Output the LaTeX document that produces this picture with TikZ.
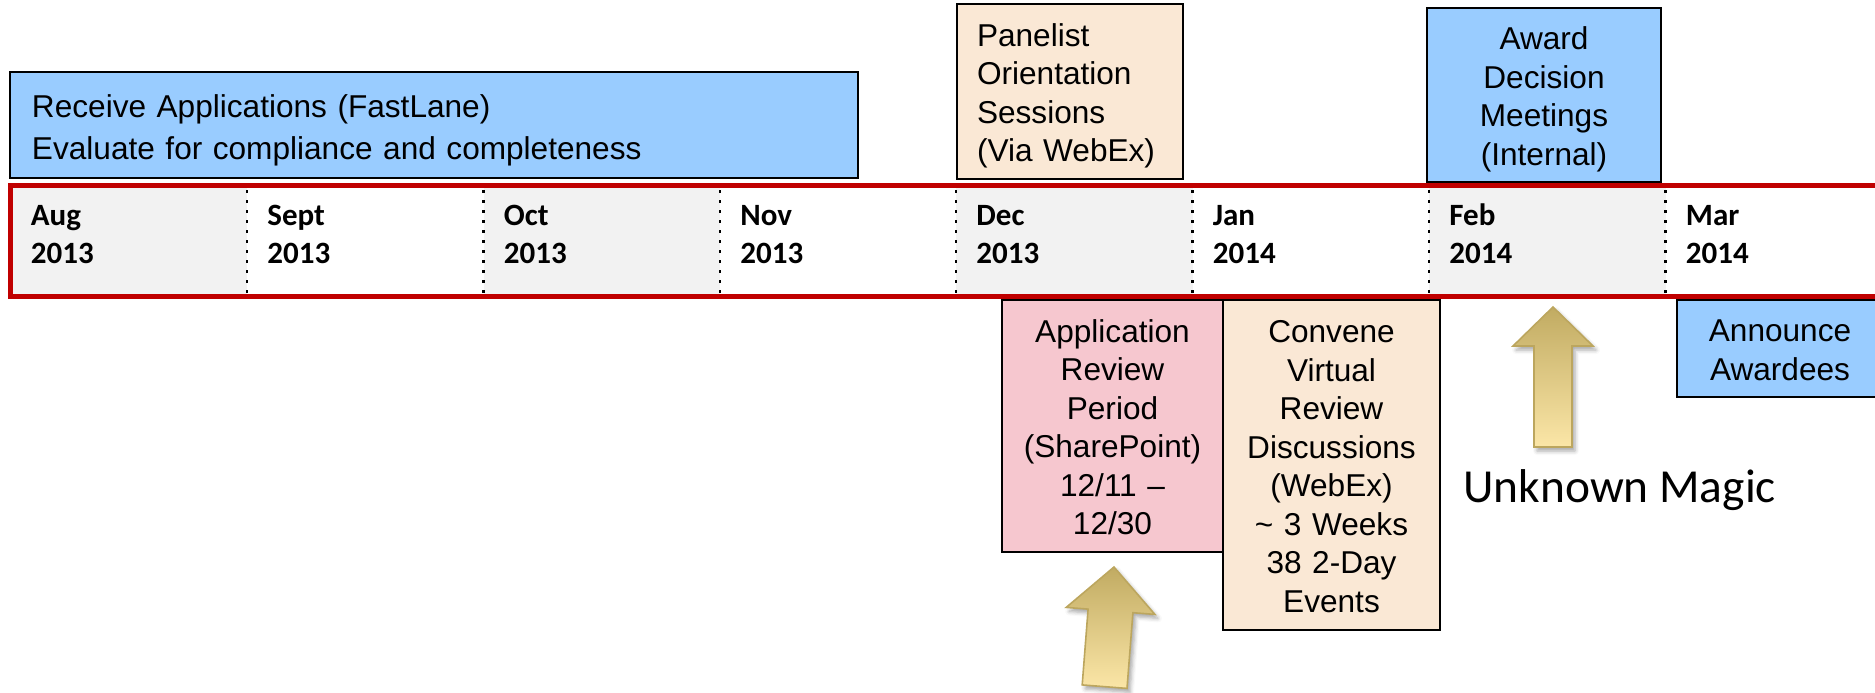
\documentclass[tikz,border=0pt]{standalone}
\usepackage{fontspec}
\setmainfont{Liberation Sans}
\newfontfamily\calibrifont{Carlito}
\usetikzlibrary{shadows.blur}
\definecolor{boxblue}{RGB}{153,204,255}
\definecolor{boxpeach}{RGB}{250,232,213}
\definecolor{boxpink}{RGB}{246,199,207}
\definecolor{barred}{RGB}{192,0,0}
\definecolor{bargrey}{RGB}{242,242,242}
\definecolor{arrowtop}{RGB}{193,171,98}
\definecolor{arrowbottom}{RGB}{251,230,167}
\definecolor{arrowedge}{RGB}{188,166,94}
% line strut so that every text block is centred on whole line boxes
\newcommand\boxstrut{\rule[-0.18\baselineskip]{0pt}{\baselineskip}}
\begin{document}
\begin{tikzpicture}[x=0.5pt,y=-0.5pt,
  event/.style={draw=black,line width=1pt,inner sep=0pt,
    font=\fontsize{15.8}{19.25}\selectfont},
  month/.style={anchor=base west,inner sep=0pt,text width=60pt,align=left,
    font=\calibrifont\bfseries\fontsize{15.5}{19}\selectfont},
  divider/.style={line width=1.3pt,dash pattern=on 1.3pt off 3.7pt},
  blockarrow/.style={draw=arrowedge,line width=0.8pt,line join=miter,
    top color=arrowtop,bottom color=arrowbottom,
    blur shadow={shadow xshift=1.5pt,shadow yshift=-2pt,
      shadow blur radius=2pt,shadow opacity=35}},
]
\useasboundingbox (0,0) rectangle (1875,692);

% shaded month columns of the time bar
\foreach \a/\b in {10.5/247, 483.5/720, 956/1192.5, 1429/1665.5}
  \fill[bargrey] (\a,185.5) rectangle (\b,296);

% dotted month dividers
\foreach \x in {247, 483.5, 720, 956, 1192.5, 1429, 1665.5}
  \draw[divider] (\x,190) -- (\x,295);

% time bar frame
\draw[barred,line width=2.5pt] (1880,185.5) -- (10.5,185.5) -- (10.5,296) -- (1880,296);

% month labels
\foreach \x/\m/\yr [count=\i] in {10.5/Aug/2013, 247/Sept/2013, 483.5/Oct/2013,
    720/Nov/2013, 956/Dec/2013, 1192.5/Jan/2014, 1429/Feb/2014, 1665.5/Mar/2014}
  \node[month] (m\i) at ({\x+20},225) {\m\\\yr};

% events above the bar
\node[event,fill=boxblue,minimum width=424pt,minimum height=53pt,
  text width=402pt,align=left,font=\fontsize{15.8}{20.8}\selectfont]
  (receive) at (434,125)
  {\boxstrut Receive Applications (FastLane)\\Evaluate for compliance and completeness\boxstrut};

\node[event,fill=boxpeach,minimum width=113pt,minimum height=87.5pt,
  text width=93pt,align=left]
  (orient) at (1070,91.5) {\boxstrut Panelist\\Orientation\\Sessions\\(Via WebEx)\boxstrut};

\node[event,fill=boxblue,minimum width=117pt,minimum height=87pt,
  text width=110pt,align=center]
  (decide) at (1544,95) {\boxstrut Award\\Decision\\Meetings\\(Internal)\boxstrut};

% events below the bar
\node[event,fill=boxpink,minimum width=110.5pt,minimum height=126pt,
  text width=106pt,align=center]
  (review) at (1112.5,426)
  {\boxstrut Application\\Review\\Period\\(SharePoint)\\12/11 \textendash\\12/30\boxstrut};

\node[event,fill=boxpeach,minimum width=108.5pt,minimum height=165pt,
  text width=104pt,align=center]
  (convene) at (1331.5,465)
  {\boxstrut Convene\\Virtual\\Review\\Discussions\\(WebEx)\\\textasciitilde{} 3 Weeks\\38 2-Day\\Events\boxstrut};

\node[event,fill=boxblue,minimum width=103pt,minimum height=48.5pt,
  text width=98pt,align=center]
  (announce) at (1780,348.5) {\boxstrut Announce\\Awardees\boxstrut};

% block arrows
\path[blockarrow] (1114,567) -- (1154.9,614.4) -- (1132.9,612.7) -- (1127.0,688.4)
  -- (1082.2,684.9) -- (1088.1,609.1) -- (1066.2,607.4) -- cycle;

\path[blockarrow] (1553,307) -- (1593,346) -- (1572,346) -- (1572,447)
  -- (1534,447) -- (1534,346) -- (1513,346) -- cycle;

\node[anchor=base west,inner sep=0pt,font=\calibrifont\fontsize{23.7}{28}\selectfont]
  (magic) at (1463,502) {Unknown Magic};
\end{tikzpicture}
\end{document}
